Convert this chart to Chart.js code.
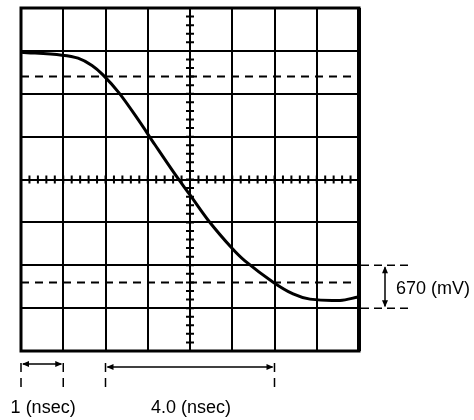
<!DOCTYPE html>
<html>
<head>
<meta charset="utf-8">
<script src="https://cdn.jsdelivr.net/npm/chart.js@4/dist/chart.umd.min.js"></script>
<style>
    html, body { margin: 0; padding: 0; background: #fff; }
    #wrap { width: 474px; height: 420px; }
</style>
</head>
<body>
<div id="wrap"><canvas id="scope" width="474" height="420"></canvas></div>
<script>
// --- Data (x in nsec / division, y in vertical divisions) ---
const timeNs = [0, 0.97, 1.35, 1.68, 1.94, 2.32, 2.77, 3.17, 3.64, 4.0, 4.43, 4.99, 5.30, 5.96, 6.44, 6.84, 7.55, 7.98];
const signalDiv = [2.97, 2.90, 2.83, 2.66, 2.44, 2.02, 1.40, 0.81, 0.13, -0.36, -0.95, -1.60, -1.90, -2.39, -2.67, -2.79, -2.82, -2.74];
const refLevels = [2.4, -2.4];          // dashed reference levels
const xRange = [0, 8];
const yRange = [-4, 4];
const swingLevels = [-2, -3];           // one division = 670 mV
const timeMarks = [[0, 1, "1 (nsec)"], [2, 6, "4.0 (nsec)"]];
const swingLabel = "670 (mV)";

const FONT = "18px 'Liberation Sans', Arial, sans-serif";

function arrowHead(ctx, x, y, dx, dy) {
    // small filled triangle pointing along (dx, dy)
    const len = 7, half = 3;
    const px = -dy, py = dx;
    ctx.beginPath();
    ctx.moveTo(x, y);
    ctx.lineTo(x - dx * len + px * half, y - dy * len + py * half);
    ctx.lineTo(x - dx * len - px * half, y - dy * len - py * half);
    ctx.closePath();
    ctx.fill();
}

// Frame, minor ticks on the centre lines, and the measurement callouts
const scopePlugin = {
    id: "scopeExtras",
    afterDraw(chart) {
        const { ctx, chartArea: a, scales } = chart;
        const xs = scales.x, ys = scales.y;
        ctx.save();
        ctx.strokeStyle = "#000";
        ctx.fillStyle = "#000";

        // thick outer frame (right edge a bit heavier, as on the print)
        ctx.lineWidth = 3;
        ctx.strokeRect(a.left, a.top, a.right - a.left, a.bottom - a.top);
        ctx.lineWidth = 4;
        ctx.beginPath();
        ctx.moveTo(a.right, a.top); ctx.lineTo(a.right, a.bottom);
        ctx.stroke();

        // minor ticks along centre axes
        const cx = xs.getPixelForValue(4), cy = ys.getPixelForValue(0);
        ctx.lineWidth = 2;
        ctx.beginPath();
        for (let v = 0.2; v < 8; v += 0.2) {
            const px = xs.getPixelForValue(v);
            ctx.moveTo(px, cy - 4); ctx.lineTo(px, cy + 4);
        }
        for (let v = -3.8; v < 4; v += 0.2) {
            const py = ys.getPixelForValue(v);
            ctx.moveTo(cx - 4, py); ctx.lineTo(cx + 4, py);
        }
        ctx.stroke();

        // time callouts below the graticule
        ctx.lineWidth = 1.5;
        ctx.font = FONT;
        ctx.textAlign = "center";
        ctx.textBaseline = "middle";
        timeMarks.forEach(([t0, t1, label], i) => {
            const x0 = xs.getPixelForValue(t0), x1 = xs.getPixelForValue(t1);
            const ay = a.bottom + 13 + i * 3;
            ctx.setLineDash([9, 6]);
            ctx.beginPath();
            ctx.moveTo(x0, a.bottom + 12); ctx.lineTo(x0, a.bottom + 39);
            ctx.moveTo(x1, a.bottom + 12); ctx.lineTo(x1, a.bottom + 39);
            ctx.stroke();
            ctx.setLineDash([]);
            ctx.beginPath();
            ctx.moveTo(x0 + 2, ay); ctx.lineTo(x1 - 2, ay);
            ctx.stroke();
            arrowHead(ctx, x0 + 1, ay, -1, 0);
            arrowHead(ctx, x1 - 1, ay, 1, 0);
            ctx.fillText(label, (x0 + x1) / 2 + 1, a.bottom + 57);
        });

        // amplitude callout on the right
        const y0 = ys.getPixelForValue(swingLevels[0]), y1 = ys.getPixelForValue(swingLevels[1]);
        ctx.setLineDash([8, 5]);
        ctx.beginPath();
        ctx.moveTo(a.right + 2, y0); ctx.lineTo(a.right + 50, y0);
        ctx.moveTo(a.right + 2, y1); ctx.lineTo(a.right + 50, y1);
        ctx.stroke();
        ctx.setLineDash([]);
        const ax = a.right + 26;
        ctx.beginPath();
        ctx.moveTo(ax, y0 + 2); ctx.lineTo(ax, y1 - 2);
        ctx.stroke();
        arrowHead(ctx, ax, y0 + 1, 0, -1);
        arrowHead(ctx, ax, y1 - 1, 0, 1);
        ctx.textAlign = "left";
        ctx.fillText(swingLabel, a.right + 37, (y0 + y1) / 2 + 2);
        ctx.restore();
    }
};

const refDatasets = refLevels.map(level => ({
    data: [{ x: xRange[0], y: level }, { x: xRange[1], y: level }],
    borderColor: "#000",
    borderWidth: 2,
    borderDash: [8, 6],
    pointRadius: 0,
    showLine: true
}));

new Chart(document.getElementById("scope").getContext("2d"), {
    type: "scatter",
    data: {
        datasets: [
            {
                data: timeNs.map((t, i) => ({ x: t, y: signalDiv[i] })),
                borderColor: "#000",
                borderWidth: 3,
                pointRadius: 0,
                showLine: true,
                tension: 0.35
            },
            ...refDatasets
        ]
    },
    options: {
        responsive: false,
        animation: false,
        layout: { padding: { left: 21, top: 8, right: 115, bottom: 69 } },
        plugins: { legend: { display: false }, tooltip: { enabled: false } },
        scales: {
            x: {
                type: "linear",
                min: xRange[0], max: xRange[1],
                ticks: { display: false, stepSize: 1 },
                grid: { color: "#000", lineWidth: 2, drawTicks: false },
                border: { display: false }
            },
            y: {
                type: "linear",
                min: yRange[0], max: yRange[1],
                ticks: { display: false, stepSize: 1 },
                grid: { color: "#000", lineWidth: 2, drawTicks: false },
                border: { display: false }
            }
        }
    },
    plugins: [scopePlugin]
});
</script>
</body>
</html>
